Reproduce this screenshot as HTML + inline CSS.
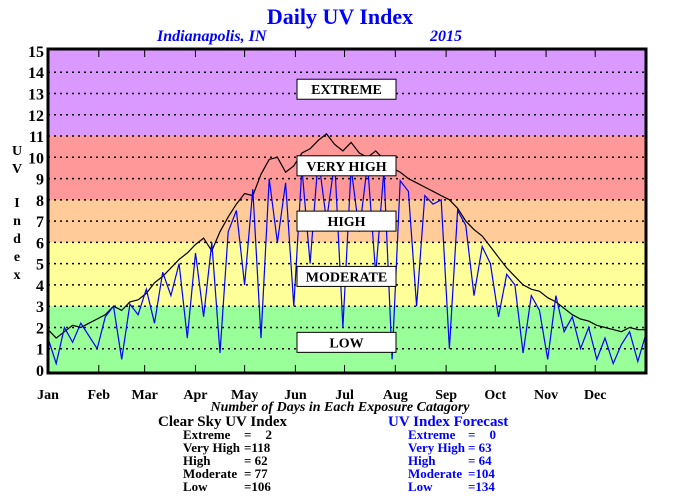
<!DOCTYPE html>
<html><head><meta charset="utf-8">
<style>
body{margin:0;background:#fff;}
svg{display:block;font-family:"Liberation Serif",serif;font-weight:bold;}
</style></head><body>
<svg id="chart" width="680" height="500" viewBox="0 0 680 500">
<text x="340" y="24" text-anchor="middle" font-size="22" fill="#0000ff">Daily UV Index</text>
<text x="157" y="41" font-size="16" font-style="italic" fill="#0000ff">Indianapolis, IN</text>
<text x="430" y="41" font-size="16" font-style="italic" fill="#0000ff">2015</text>
<g id="bands"></g>
<g id="grid"></g>
<g id="series"></g>
<g id="catlabels"></g>
<g id="axes"></g>
<g font-size="14">
<text x="17" y="155" text-anchor="middle">U</text>
<text x="17" y="173" text-anchor="middle">V</text>
<text x="17" y="207" text-anchor="middle">I</text>
<text x="17" y="225" text-anchor="middle">n</text>
<text x="17" y="243" text-anchor="middle">d</text>
<text x="17" y="261" text-anchor="middle">e</text>
<text x="17" y="279" text-anchor="middle">x</text>
</g>
<text x="340" y="411" text-anchor="middle" font-size="14" font-style="italic">Number of Days in Each Exposure Catagory</text>
<g font-size="13">
<text x="158" y="426" font-size="15">Clear Sky UV Index</text>
<text x="183" y="439">Extreme</text><text x="244" y="439">=</text><text x="272" y="439" text-anchor="end">2</text>
<text x="183" y="452">Very High</text><text x="244" y="452">=118</text>
<text x="183" y="465">High</text><text x="244" y="465">= 62</text>
<text x="183" y="478">Moderate</text><text x="244" y="478">= 77</text>
<text x="183" y="491">Low</text><text x="244" y="491">=106</text>
</g>
<g font-size="13" fill="#0000ff">
<text x="388" y="426" font-size="15">UV Index Forecast</text>
<text x="408" y="439">Extreme</text><text x="468" y="439">=</text><text x="496" y="439" text-anchor="end">0</text>
<text x="408" y="452">Very High</text><text x="468" y="452">= 63</text>
<text x="408" y="465">High</text><text x="468" y="465">= 64</text>
<text x="408" y="478">Moderate</text><text x="468" y="478">=104</text>
<text x="408" y="491">Low</text><text x="468" y="491">=134</text>
</g>
</svg>
<script>
const months=["Jan","Feb","Mar","Apr","May","Jun","Jul","Aug","Sep","Oct","Nov","Dec"];
const monthDays=[31,28,31,30,31,30,31,31,30,31,30,31];
const yTicks=[0,1,2,3,4,5,6,7,8,9,10,11,12,13,14,15];
const stepDays=5;
const clearSky=[1.9,1.5,1.8,2.1,2.0,2.2,
2.4,2.6,3.0,2.8,3.2,3.3,
3.6,4.1,4.4,4.8,5.2,5.5,
5.9,6.2,5.6,6.5,7.2,7.8,
8.3,8.2,9.2,9.9,10.0,9.3,
9.6,10.2,10.4,10.8,11.1,10.6,
10.3,10.7,10.2,10.0,10.3,9.9,
9.5,9.3,9.0,8.8,8.6,8.4,
8.2,8.0,7.6,7.0,6.6,6.3,
5.8,5.3,4.8,4.4,4.0,3.8,
3.7,3.4,3.2,2.9,2.6,2.4,
2.3,2.1,2.0,1.9,1.8,2.0,1.9,1.9];
const forecast=[1.5,0.3,2.0,1.3,2.2,1.6,
1.0,2.5,3.0,0.5,3.1,2.6,
3.8,2.2,4.6,3.5,5.0,1.5,
5.5,2.5,6.0,0.8,6.5,7.5,
4.0,8.5,1.5,9.0,6.0,8.8,
3.0,9.5,5.0,10.0,7.0,9.8,
2.0,9.5,6.5,9.7,4.5,9.4,
0.5,8.9,8.4,3.0,8.2,7.8,
8.0,1.0,7.5,6.8,3.5,5.8,
5.0,2.5,4.5,4.0,0.8,3.5,
2.8,0.5,3.5,1.8,2.5,1.0,
2.0,0.5,1.5,0.3,1.2,1.8,0.4,1.7];
const bandNames=["LOW","MODERATE","HIGH","VERY HIGH","EXTREME"];
const bandLo=[0,3,6,8,11];
const bandHi=[3,6,8,11,15.3];
const bandColors=["#99ff99","#ffff99","#ffcc99","#ff9999","#d999ff"];
const bandLabelVal=[1.3,4.4,7.0,9.6,13.2];

const L=48,R=646,T=49,B=373;
const x=d=>L+d*(R-L)/365;
const y=v=>370-v*21.27;
const NS="http://www.w3.org/2000/svg";
function mk(tag,attrs,parent){const e=document.createElementNS(NS,tag);for(const k in attrs)e.setAttribute(k,attrs[k]);parent.appendChild(e);return e;}
const bands=document.getElementById('bands'),grid=document.getElementById('grid'),series=document.getElementById('series'),cl=document.getElementById('catlabels'),axes=document.getElementById('axes');
bandLo.forEach((lo,i)=>{
 const top=Math.max(T,y(bandHi[i])),bot=Math.min(B,i==0?B:y(lo));
 const r=mk('rect',{x:L,y:top,width:R-L,height:bot-top,fill:bandColors[i]},bands);
 
 
});
yTicks.forEach(v=>{
 if(v>0&&v<15){const l=mk('line',{x1:L,x2:R,y1:y(v),y2:y(v),stroke:'#000','stroke-width':1.5,'stroke-dasharray':'2,4'},grid);
 
 }
 const t=mk('text',{x:44,y:y(v)+6,'text-anchor':'end','font-size':16},axes);t.textContent=v;
 
 
});
function line(arr,color,name){
 const pts=arr.map((v,i)=>x(Math.min(365,i*stepDays)).toFixed(1)+','+y(v).toFixed(1)).join(' ');
 const p=mk('polyline',{points:pts,fill:'none',stroke:color,'stroke-width':1.2},series);
 
 
}
line(clearSky,'#000','clear-sky-line');
line(forecast,'#0000ff','forecast-line');
bandNames.forEach((n,i)=>{
 const cy=y(bandLabelVal[i]);
 const r=mk('rect',{x:297,y:cy-10,width:99,height:20,fill:'#fff',stroke:'#000','stroke-width':1},cl);
 
 
 const t=mk('text',{x:346.5,y:cy+5,'text-anchor':'middle','font-size':14},cl);t.textContent=n;
 
 
});
const frame=mk('rect',{x:L,y:T,width:R-L,height:B-T,fill:'none',stroke:'#000','stroke-width':3},axes);


let cum=0;
months.forEach((m,i)=>{
 const xx=x(cum);
 if(i>0){mk('line',{x1:xx,x2:xx,y1:B,y2:B-8,stroke:'#000','stroke-width':1},axes);mk('line',{x1:xx,x2:xx,y1:T,y2:T+8,stroke:'#000','stroke-width':1},axes);}
 const t=mk('text',{x:xx,y:399,'text-anchor':'middle','font-size':14},axes);t.textContent=m;
 
 
 cum+=monthDays[i];
});
</script>
</body></html>
